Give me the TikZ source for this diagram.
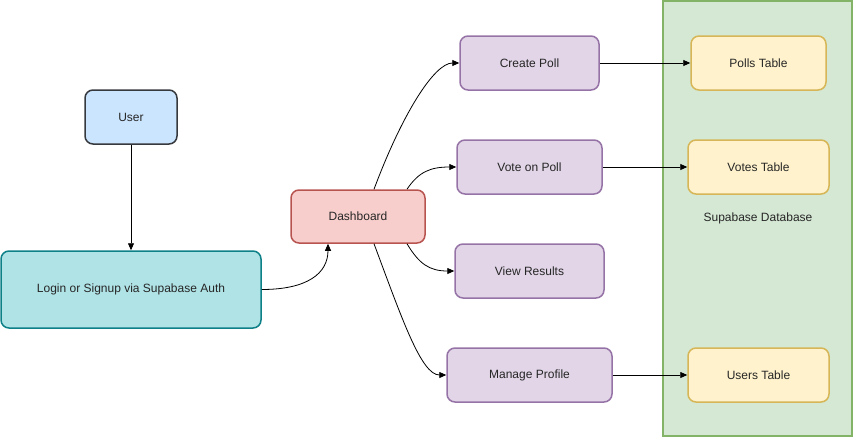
\documentclass[tikz,border=0pt]{standalone}
\usepackage{fontspec}
\setmainfont{Liberation Sans}
\usetikzlibrary{arrows.meta}
\definecolor{userfill}{HTML}{CCE5FF}
\definecolor{userdraw}{HTML}{36393D}
\definecolor{loginfill}{HTML}{B0E3E6}
\definecolor{logindraw}{HTML}{0E8088}
\definecolor{dashfill}{HTML}{F8CECC}
\definecolor{dashdraw}{HTML}{B85450}
\definecolor{actfill}{HTML}{E1D5E7}
\definecolor{actdraw}{HTML}{9673A6}
\definecolor{dbfill}{HTML}{D5E8D4}
\definecolor{dbdraw}{HTML}{82B366}
\definecolor{tabfill}{HTML}{FFF2CC}
\definecolor{tabdraw}{HTML}{D6B656}
\begin{document}
\begin{tikzpicture}[x=1pt,y=-1pt,
  every node/.style={font=\fontsize{12}{14}\selectfont, text=black!85},
  box/.style={rounded corners=8pt, line width=1.5pt, inner sep=0pt},
  userbox/.style={box, fill=userfill, draw=userdraw},
  loginbox/.style={box, fill=loginfill, draw=logindraw},
  dashbox/.style={box, fill=dashfill, draw=dashdraw},
  actbox/.style={box, fill=actfill, draw=actdraw},
  tabbox/.style={box, fill=tabfill, draw=tabdraw},
  conn/.style={line width=0.8pt, -{Triangle[length=7pt,width=6pt]}}
]
\useasboundingbox (0,0) rectangle (856,439);
% database container
\node[draw=dbdraw, fill=dbfill, line width=1.5pt, minimum width=189pt, minimum height=435pt, inner sep=0pt] (db) at (757.5,218.5) {};
\node (dblabel) at (758,218) {Supabase Database};
% nodes
\node[userbox, minimum width=92pt, minimum height=54pt] (user) at (131,117) {User};
\node[loginbox, minimum width=260pt, minimum height=77pt] (login) at (131,289.5) {Login or Signup via Supabase Auth};
\node[dashbox, minimum width=134pt, minimum height=53pt] (dash) at (358,216.5) {Dashboard};
\node[actbox, minimum width=139pt, minimum height=54pt] (create) at (529.5,63) {Create Poll};
\node[actbox, minimum width=145pt, minimum height=54pt] (vote) at (529.5,167) {Vote on Poll};
\node[actbox, minimum width=149pt, minimum height=54pt] (results) at (529.5,271) {View Results};
\node[actbox, minimum width=165pt, minimum height=54pt] (profile) at (529.5,375) {Manage Profile};
\node[tabbox, minimum width=135pt, minimum height=54pt] (polls) at (758.5,63) {Polls Table};
\node[tabbox, minimum width=141pt, minimum height=54pt] (votes) at (758.5,167) {Votes Table};
\node[tabbox, minimum width=141pt, minimum height=54pt] (users) at (758.5,375) {Users Table};
% connectors
\draw[conn] (user.south) -- (login.north);
\draw[conn] (login.east) .. controls +(45,0) and +(0,30) .. ([xshift=-30pt]dash.south);
\draw[conn] ([xshift=16pt]dash.north) .. controls +(28,-75) and +(-25,0) .. (create.west);
\draw[conn] ([xshift=49pt]dash.north) .. controls +(12,-18) and +(-25,0) .. (vote.west);
\draw[conn] ([xshift=49pt]dash.south) .. controls +(12,20) and +(-25,0) .. (results.west);
\draw[conn] ([xshift=16pt]dash.south) .. controls +(28,75) and +(-25,0) .. (profile.west);
\draw[conn] (create.east) -- (polls.west);
\draw[conn] (vote.east) -- (votes.west);
\draw[conn] (profile.east) -- (users.west);
\end{tikzpicture}
\end{document}
